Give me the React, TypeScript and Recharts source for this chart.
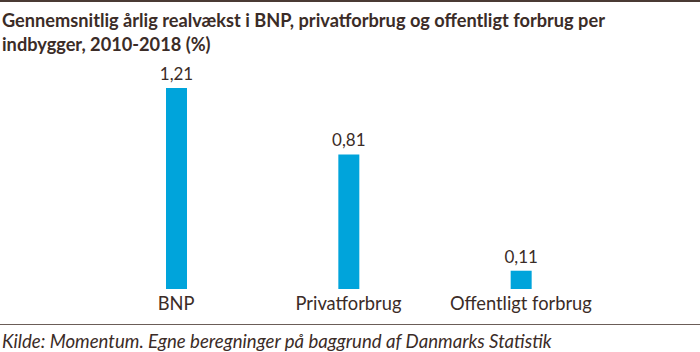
import { Bar, BarChart, LabelList, XAxis, YAxis } from "recharts";

const categories = ["BNP", "Privatforbrug", "Offentligt forbrug"];
const growth = [1.21, 0.81, 0.11];

const data = categories.map((name, i) => ({ name, growth: growth[i] }));

const INK = "#3b2c27";
const BLUE = "#00a4db";
const FONT = "Lato, 'Open Sans', sans-serif";

export default function App() {
  return (
    <div
      style={{
        position: "fixed",
        left: 0,
        top: 0,
        width: 700,
        height: 352,
        background: "#fff",
        fontFamily: FONT,
        color: INK,
        overflow: "hidden",
      }}
    >
      <div style={{ position: "absolute", left: 0, top: 0, width: 700, height: 2, background: "#4a3a34" }} />
      <div
        style={{
          position: "absolute",
          left: 2,
          top: 8,
          width: 690,
          fontSize: 18.2,
          fontWeight: 700,
          lineHeight: "24px",
        }}
      >
        Gennemsnitlig årlig realvækst i BNP, privatforbrug og offentligt forbrug per
        <br />
        indbygger, 2010-2018 (%)
      </div>
      <div style={{ position: "absolute", left: 0, top: 0 }}>
        <BarChart
          width={700}
          height={352}
          data={data}
          margin={{ top: 88, right: 93, left: 90, bottom: 33 }}
        >
          <YAxis hide domain={[0, 1.21]} />
          <XAxis
            dataKey="name"
            axisLine={false}
            tickLine={false}
            height={30}
            tickMargin={2}
            tick={{ fill: INK, fontSize: 18.3, fontFamily: FONT }}
          />
          <Bar dataKey="growth" fill={BLUE} barSize={21} isAnimationActive={false}>
            <LabelList
              dataKey="growth"
              position="top"
              offset={8}
              formatter={(v: any) => String(v).replace(".", ",")}
              style={{ fill: INK, fontSize: 17, fontFamily: FONT }}
            />
          </Bar>
        </BarChart>
      </div>
      <div style={{ position: "absolute", left: 0, top: 324, width: 700, height: 1, background: "#6b5d58" }} />
      <div
        style={{
          position: "absolute",
          left: 2,
          top: 330,
          fontSize: 18.6,
          fontStyle: "italic",
          lineHeight: "22px",
          whiteSpace: "nowrap",
        }}
      >
        Kilde: Momentum. Egne beregninger på baggrund af Danmarks Statistik
      </div>
    </div>
  );
}
